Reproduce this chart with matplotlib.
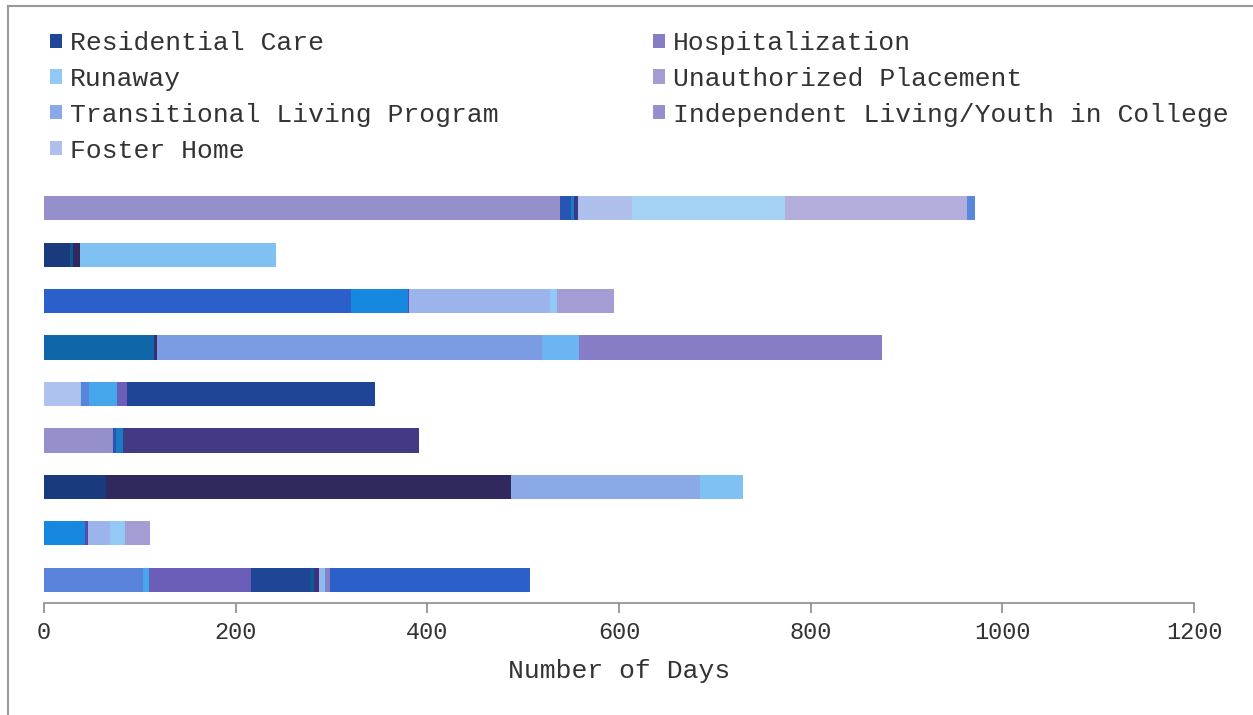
import numpy as np
import matplotlib.pyplot as plt
from matplotlib.patches import Patch
from matplotlib.lines import Line2D

plt.rcParams['font.family'] = ['Liberation Mono', 'DejaVu Sans Mono']

# legend categories
categories = ["Residential Care", "Runaway", "Transitional Living Program", "Foster Home",
              "Hospitalization", "Unauthorized Placement", "Independent Living/Youth in College"]
cat_colors = ["#1f4596", "#93c9f5", "#8ba9e6", "#adbfea",
              "#857dc6", "#a49dd4", "#958fcc"]

# days spent in each placement, one list per youth (top bar first)
row1 = [538, 12, 3, 4, 57, 159, 190, 8]
row2 = [27, 3, 8, 204.5]
row3 = [320, 59.5, 1.4, 147, 7.3, 59.5]
row4 = [114.8, 3.1, 401.4, 39, 316]
row5 = [37.6, 1, 8.4, 29.2, 10.4, 258.8]
row6 = [72, 3.1, 7.3, 308.9]
row7 = [64.4, 422.9, 197.2, 44.9]
row8 = [42.8, 3.4, 22.7, 15.6, 26.1]
row9 = [103.3, 6.3, 106.4, 61.6, 4.1, 5.3, 3.6, 2.6, 5.2, 208.7]
rows = [row1, row2, row3, row4, row5, row6, row7, row8, row9]

# colour of each segment
col1 = ["#958fcc", "#2855b3", "#1a7bc4", "#3a3a8a", "#adbfea", "#a3d2f5", "#b3aedc", "#5a86dc"]
col2 = ["#1a3a7e", "#10598f", "#30295e", "#7fc1f2"]
col3 = ["#2b5fc9", "#1788df", "#5a4aa8", "#9bb4eb", "#93c9f5", "#a49dd4"]
col4 = ["#0f66a8", "#352f6e", "#7b9ce2", "#6bb6f2", "#867dc6"]
col5 = ["#adc2ee", "#8fc8f5", "#5a84dc", "#46a6ec", "#6a5eb8", "#1f4596"]
col6 = ["#958fcc", "#2855b3", "#1a7bc4", "#433a85"]
col7 = ["#1a3a7e", "#2f295e", "#8ba9e6", "#7fc1f2"]
col8 = ["#1788df", "#5a4aa8", "#9bb4eb", "#93c9f5", "#a49dd4"]
col9 = ["#5a84dc", "#46a6ec", "#6a5eb8", "#1f4596", "#10598f", "#3a3181",
        "#9cb6eb", "#7fc1f2", "#8a80c8", "#2b5fc9"]
colors = [col1, col2, col3, col4, col5, col6, col7, col8, col9]

fig = plt.figure(figsize=(12.53, 7.15), dpi=100)
ax = fig.add_axes([44/1253, 1 - 603/715, 1150/1253, 418/715])

n = len(rows)
for i, (vals, cols) in enumerate(zip(rows, colors)):
    y = n - 1 - i
    lefts = np.concatenate([[0], np.cumsum(vals)[:-1]])
    ax.barh([y] * len(vals), vals, left=lefts, height=0.52, color=cols, linewidth=0)

ax.set_xlim(0, 1200)
ax.set_ylim(-0.5, n - 0.5)
ax.set_xticks(np.arange(0, 1201, 200))
ax.set_yticks([])
for s in ['top', 'right', 'left']:
    ax.spines[s].set_visible(False)
ax.spines['bottom'].set_color('#8c8c8c')
ax.spines['bottom'].set_linewidth(1.2)
ax.tick_params(axis='x', direction='out', length=7, width=1.2, color='#8c8c8c',
               labelsize=17, labelcolor='#333333', pad=6)
ax.set_xlabel("Number of Days", fontsize=19, color='#333333', labelpad=11)

handles = [Patch(facecolor=c, edgecolor='none') for c in cat_colors]
fig.legend(handles, categories, ncol=2, loc='upper left', frameon=False,
           bbox_to_anchor=(50/1253, 1 - 31/715), borderaxespad=0, borderpad=0,
           fontsize=19, handlelength=0.45, handleheight=0.45, handletextpad=0.3,
           labelspacing=0.45, columnspacing=5.87, labelcolor='#333333')

# outer frame
fig.add_artist(Line2D([8/1253, 8/1253], [0, 1 - 6/715], color='#999999', lw=1.5))
fig.add_artist(Line2D([8/1253, 1], [1 - 6/715, 1 - 6/715], color='#999999', lw=1.5))

fig.savefig("out.png", dpi=100)
